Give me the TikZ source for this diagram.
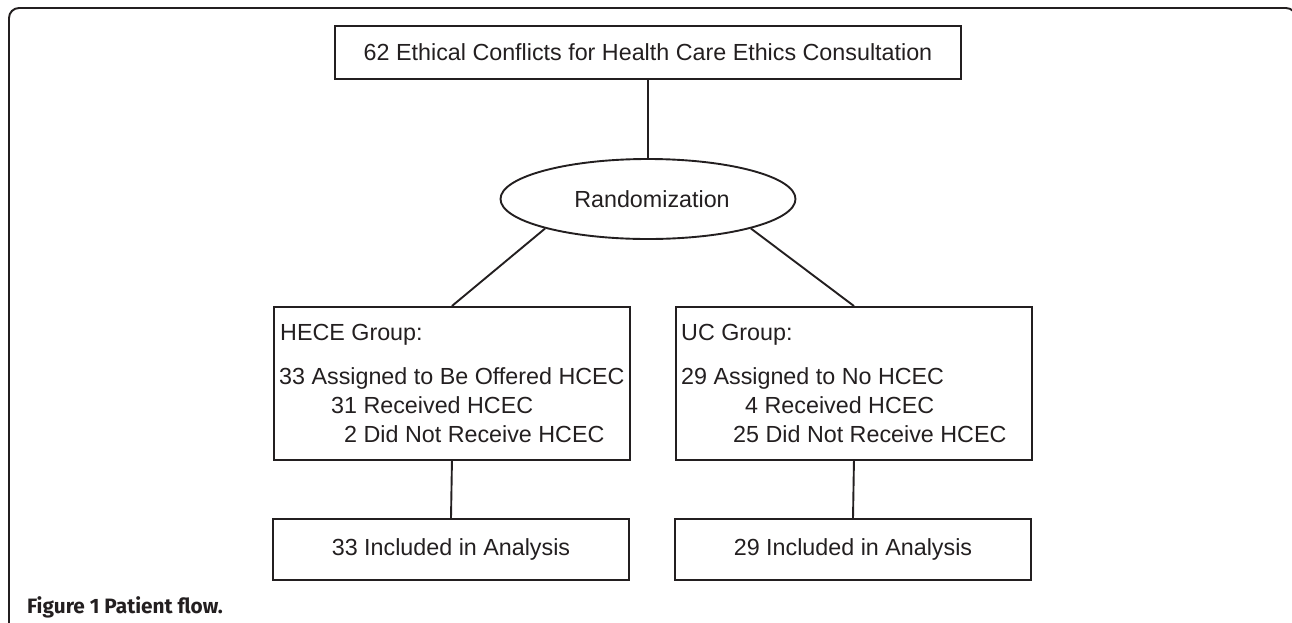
\documentclass[tikz,border=0pt]{standalone}
\usepackage{fontspec}
\setmainfont{Liberation Sans}
\newfontfamily\capfont{Fira Sans}
\usetikzlibrary{shapes.geometric}
\definecolor{ink}{HTML}{231F20}
\begin{document}
\begin{tikzpicture}[x=1pt,y=-1pt,
  every node/.style={text=ink},
  box/.style={draw=ink, line width=1.9pt, inner sep=0pt},
  txt/.style={anchor=base west, inner sep=0pt, font=\fontsize{23.3}{28}\selectfont},
  ctxt/.style={font=\fontsize{23.3}{28}\selectfont},
  conn/.style={draw=ink, line width=1.9pt}]
\useasboundingbox (0,0) rectangle (1292,622);
% outer frame
\draw[draw=ink, line width=1.9pt, rounded corners=10pt] (9,630) -- (9,8) -- (1296,8) -- (1296,630);
% top box
\node[box, ctxt, minimum width=626pt, minimum height=53pt] (top) at (648,52.5)
  {62 Ethical Conflicts for Health Care Ethics Consultation};
% ellipse
\node[box, ellipse, ctxt, minimum width=295pt, minimum height=80pt] (rand) at (648,199)
  {\hspace*{8pt}Randomization};
% group boxes
\node[box, anchor=north west, minimum width=356pt, minimum height=153pt] (hece) at (273,306) {};
\node[box, anchor=north west, minimum width=356pt, minimum height=153pt] (uc) at (675,306) {};
\node[txt] (h1) at (280,340) {HECE Group:};
\node[txt] (h2) at (279,384) {33 Assigned to Be Offered HCEC};
\node[txt] (h3) at (331,413) {31 Received HCEC};
\node[txt] (h4) at (344,442) {2 Did Not Receive HCEC};
\node[txt] (u1) at (681,340) {UC Group:};
\node[txt] (u2) at (681,384) {29 Assigned to No HCEC};
\node[txt] (u3) at (745,413) {4 Received HCEC};
\node[txt] (u4) at (733,442) {25 Did Not Receive HCEC};
% bottom boxes
\node[box, ctxt, minimum width=356pt, minimum height=61pt] (inca) at (451,549.5) {33 Included in Analysis};
\node[box, ctxt, minimum width=356pt, minimum height=61pt] (incb) at (853,549.5) {29 Included in Analysis};
% connectors
\draw[conn] (top.south) -- (rand.north);
\draw[conn] (rand.-164) -- (hece.north);
\draw[conn] (rand.-16) -- (uc.north);
\draw[conn] (hece.south) -- (inca.north);
\draw[conn] (uc.south) -- (incb.north);
% caption
\node[anchor=base west, inner sep=0pt, font=\capfont\bfseries\fontsize{20.8}{24}\selectfont] (cap) at (27,613) {Figure 1 Patient flow.};
\end{tikzpicture}
\end{document}
